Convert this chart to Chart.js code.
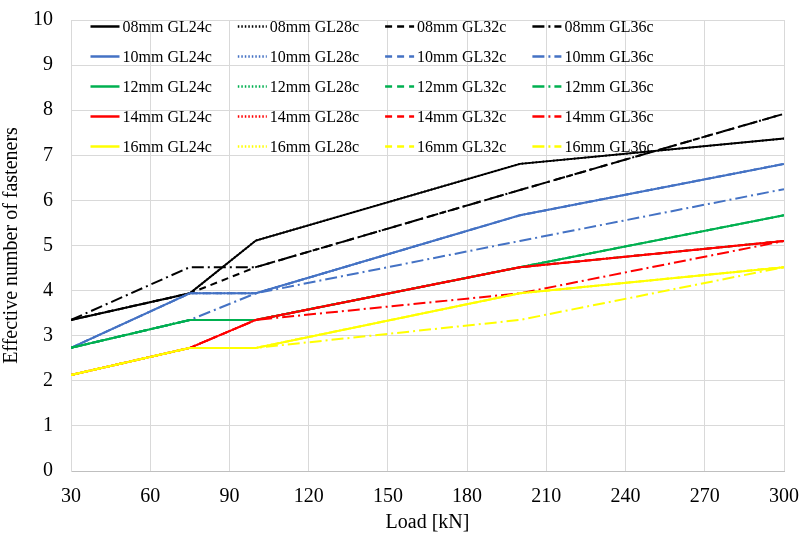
<!DOCTYPE html>
<html>
<head>
<meta charset="utf-8">
<script src="https://cdn.jsdelivr.net/npm/chart.js@4/dist/chart.umd.min.js"></script>
<style>
  body { margin: 0; background: #fff; }
  #wrap { width: 802px; height: 533px; }
</style>
</head>
<body>
<div id="wrap"><canvas id="nefChart"></canvas></div>
<script>
// load steps (kN) where n_ef was computed
const loads = [30, 75, 100, 200, 300];
const xTicks = [30, 60, 90, 120, 150, 180, 210, 240, 270, 300];
const diameters = ["08mm", "10mm", "12mm", "14mm", "16mm"];
const grades = ["GL24c", "GL28c", "GL32c", "GL36c"];

// effective number of fasteners, rows = GL24c, GL28c, GL32c, GL36c
const nef08 = [
    [3.35, 3.94, 5.11, 6.81, 7.37],
    [3.35, 3.94, 5.11, 6.81, 7.37],
    [3.35, 3.94, 4.52, 6.23, 7.92],
    [3.35, 4.52, 4.52, 6.23, 7.92]
];
const nef10 = [
    [2.73, 3.94, 3.94, 5.67, 6.81],
    [2.73, 3.94, 3.94, 5.67, 6.81],
    [2.73, 3.94, 3.94, 5.67, 6.81],
    [2.73, 3.35, 3.94, 5.10, 6.25]
];
const nef12 = [
    [2.73, 3.35, 3.35, 4.52, 5.67],
    [2.73, 3.35, 3.35, 4.52, 5.67],
    [2.73, 3.35, 3.35, 4.52, 5.67],
    [2.73, 3.35, 3.35, 4.52, 5.10]
];
const nef14 = [
    [2.13, 2.73, 3.35, 4.52, 5.10],
    [2.13, 2.73, 3.35, 4.52, 5.10],
    [2.13, 2.73, 3.35, 4.52, 5.10],
    [2.13, 2.73, 3.35, 3.94, 5.10]
];
const nef16 = [
    [2.13, 2.73, 2.73, 3.94, 4.52],
    [2.13, 2.73, 2.73, 3.94, 4.52],
    [2.13, 2.73, 2.73, 3.94, 4.52],
    [2.13, 2.73, 2.73, 3.35, 4.52]
];
const nefAll = [nef08, nef10, nef12, nef14, nef16];

// styles
const colors = ["#000000", "#4472C4", "#00B050", "#FF0000", "#FFFF00"];
const dashes = [[], [1.5, 2], [7, 5], [12, 4, 2, 4]];
const serif = "'Liberation Serif', 'Times New Roman', serif";

const datasets = [];
diameters.forEach((d, di) => {
    grades.forEach((g, gi) => {
        const i = datasets.length;
        datasets.push({
            label: d + " " + g,
            data: loads.map((x, k) => ({ x: x, y: nefAll[di][gi][k] })),
            borderColor: colors[di],
            backgroundColor: colors[di],
            borderDash: dashes[gi],
            borderWidth: 2,
            pointRadius: 0,
            tension: 0,
            fill: false,
            order: -i  // later series on top, like the spreadsheet
        });
    });
});

// legend drawn inside the plot, 4 columns x 5 rows
const innerLegend = {
    id: "innerLegend",
    afterDraw(chart) {
        const ctx = chart.ctx;
        const area = chart.chartArea;
        ctx.save();
        ctx.font = "16px " + serif;
        ctx.textBaseline = "middle";
        ctx.fillStyle = "#000";
        chart.data.datasets.forEach((ds, i) => {
            const col = i % 4, row = Math.floor(i / 4);
            const x = area.left + 19.5 + col * 147.3;
            const y = area.top + 6.5 + row * 30;
            ctx.strokeStyle = ds.borderColor;
            ctx.lineWidth = 2.5;
            ctx.setLineDash(ds.borderDash);
            ctx.beginPath();
            ctx.moveTo(x, y);
            ctx.lineTo(x + 29, y);
            ctx.stroke();
            ctx.setLineDash([]);
            ctx.fillText(ds.label, x + 32, y + 1);
        });
        ctx.restore();
    }
};

const ctx = document.getElementById("nefChart").getContext("2d");
new Chart(ctx, {
    type: "line",
    data: { datasets: datasets },
    options: {
        responsive: true,
        maintainAspectRatio: false,
        animation: false,
        layout: { padding: { top: 20, right: 18, left: 0, bottom: 0 } },
        plugins: {
            legend: { display: false },
            tooltip: { enabled: false }
        },
        scales: {
            x: {
                type: "linear",
                min: 30,
                max: 300,
                afterBuildTicks: axis => { axis.ticks = xTicks.map(v => ({ value: v })); },
                afterFit: axis => {
                    axis.height = 62;
                    axis.paddingLeft = 0;
                    axis.paddingRight = 0;
                },
                grid: { color: "#d9d9d9", drawTicks: false },
                border: { color: "#bfbfbf" },
                ticks: { color: "#000", padding: 14, font: { family: serif, size: 20 } },
                title: {
                    display: true,
                    text: "Load [kN]",
                    color: "#000",
                    padding: { top: 0, bottom: -2 },
                    font: { family: serif, size: 20 }
                }
            },
            y: {
                min: 0,
                max: 10,
                afterFit: axis => {
                    axis.width = 71;
                    axis.paddingTop = 0;
                    axis.paddingBottom = 0;
                },
                grid: { color: "#d9d9d9", drawTicks: false },
                border: { color: "#d9d9d9" },
                ticks: { stepSize: 1, color: "#000", padding: 18, font: { family: serif, size: 20 } },
                title: {
                    display: true,
                    text: "Effective number of fasteners",
                    color: "#000",
                    padding: { top: 0, bottom: 0 },
                    font: { family: serif, size: 20 }
                }
            }
        }
    },
    plugins: [innerLegend]
});
</script>
</body>
</html>
